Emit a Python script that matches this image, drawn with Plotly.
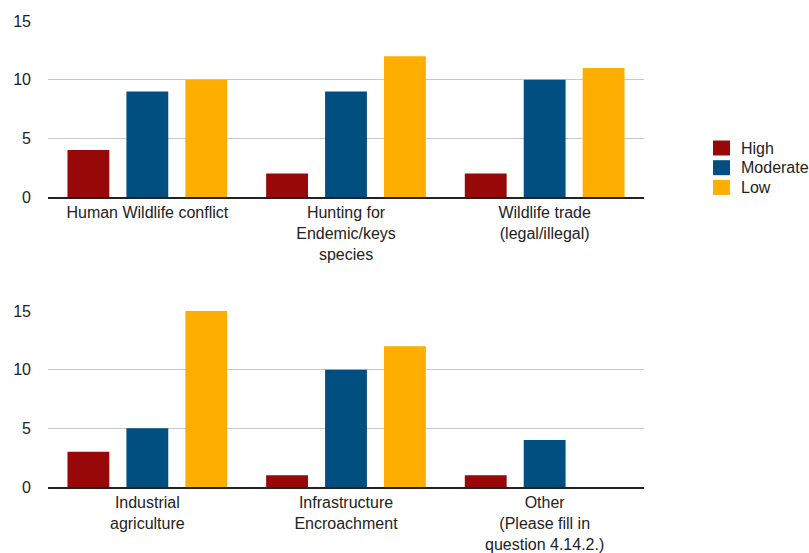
import plotly.graph_objects as go
from plotly.subplots import make_subplots

# Threat categories, split across the two panels
top_categories = [
    "Human Wildlife conflict",
    "Hunting for<br>Endemic/keys<br>species",
    "Wildlife trade<br>(legal/illegal)",
]
bottom_categories = [
    "Industrial<br>agriculture",
    "Infrastructure<br>Encroachment",
    "Other<br>(Please fill in<br>question 4.14.2.)",
]

# Counts per severity level
top_high = [4, 2, 2]
top_moderate = [9, 9, 10]
top_low = [10, 12, 11]

bottom_high = [3, 1, 1]
bottom_moderate = [5, 10, 4]
bottom_low = [15, 12, 0]

series_names = ["High", "Moderate", "Low"]
colors = {"High": "#980808", "Moderate": "#004f80", "Low": "#fdae00"}

W, H = 809, 553
ML, MR, MT, MB = 48, 165, 21, 66
PW, PH = W - ML - MR, H - MT - MB

fig = make_subplots(rows=2, cols=1, vertical_spacing=0.2)

top_values = {"High": top_high, "Moderate": top_moderate, "Low": top_low}
bottom_values = {"High": bottom_high, "Moderate": bottom_moderate, "Low": bottom_low}

for name in series_names:
    fig.add_trace(
        go.Bar(x=top_categories, y=top_values[name], name=name,
               marker=dict(color=colors[name], line=dict(width=0)),
               showlegend=False),
        row=1, col=1,
    )
    fig.add_trace(
        go.Bar(x=bottom_categories, y=bottom_values[name], name=name,
               marker=dict(color=colors[name], line=dict(width=0)),
               showlegend=False),
        row=2, col=1,
    )

font = dict(family="Liberation Sans, Arial, Helvetica, sans-serif", size=16, color="#222222")


def px_x(px):
    return (px - ML) / PW


def px_y(py):
    return (H - MB - py) / PH


# Legend: a square swatch and a label per severity level
legend_left, legend_top, legend_step, sw, sh = 713, 148, 19.7, 17, 15
for i, name in enumerate(series_names):
    cy = legend_top + i * legend_step
    fig.add_shape(type="rect", xref="paper", yref="paper",
                  x0=px_x(legend_left), x1=px_x(legend_left + sw),
                  y0=px_y(cy + sh / 2), y1=px_y(cy - sh / 2),
                  fillcolor=colors[name], line=dict(width=0))
    fig.add_annotation(xref="paper", yref="paper", x=px_x(legend_left + sw + 9),
                       y=px_y(cy), xanchor="left", yanchor="middle",
                       text=name, showarrow=False, font=font)

fig.update_layout(
    width=W, height=H,
    margin=dict(l=ML, r=MR, t=MT, b=MB, autoexpand=False),
    paper_bgcolor="white", plot_bgcolor="white",
    barmode="group", bargap=0.11, bargroupgap=0.29,
    font=font, showlegend=False,
)

fig.update_yaxes(range=[0, 15], tickvals=[0, 5, 10, 15], showgrid=True,
                 gridcolor="#c8c8c8", gridwidth=1, zeroline=False,
                 showline=False, ticks="", ticklabelstandoff=16,
                 tickfont=font, fixedrange=True, automargin=False)
fig.update_xaxes(showline=True, linecolor="#222222", linewidth=1.5,
                 ticks="", tickfont=font, showgrid=False, automargin=False)

fig.update_layout(
    yaxis=dict(domain=[px_y(197), 1.0]),
    yaxis2=dict(domain=[0.0, px_y(311)]),
)

fig.write_html("out.html")
